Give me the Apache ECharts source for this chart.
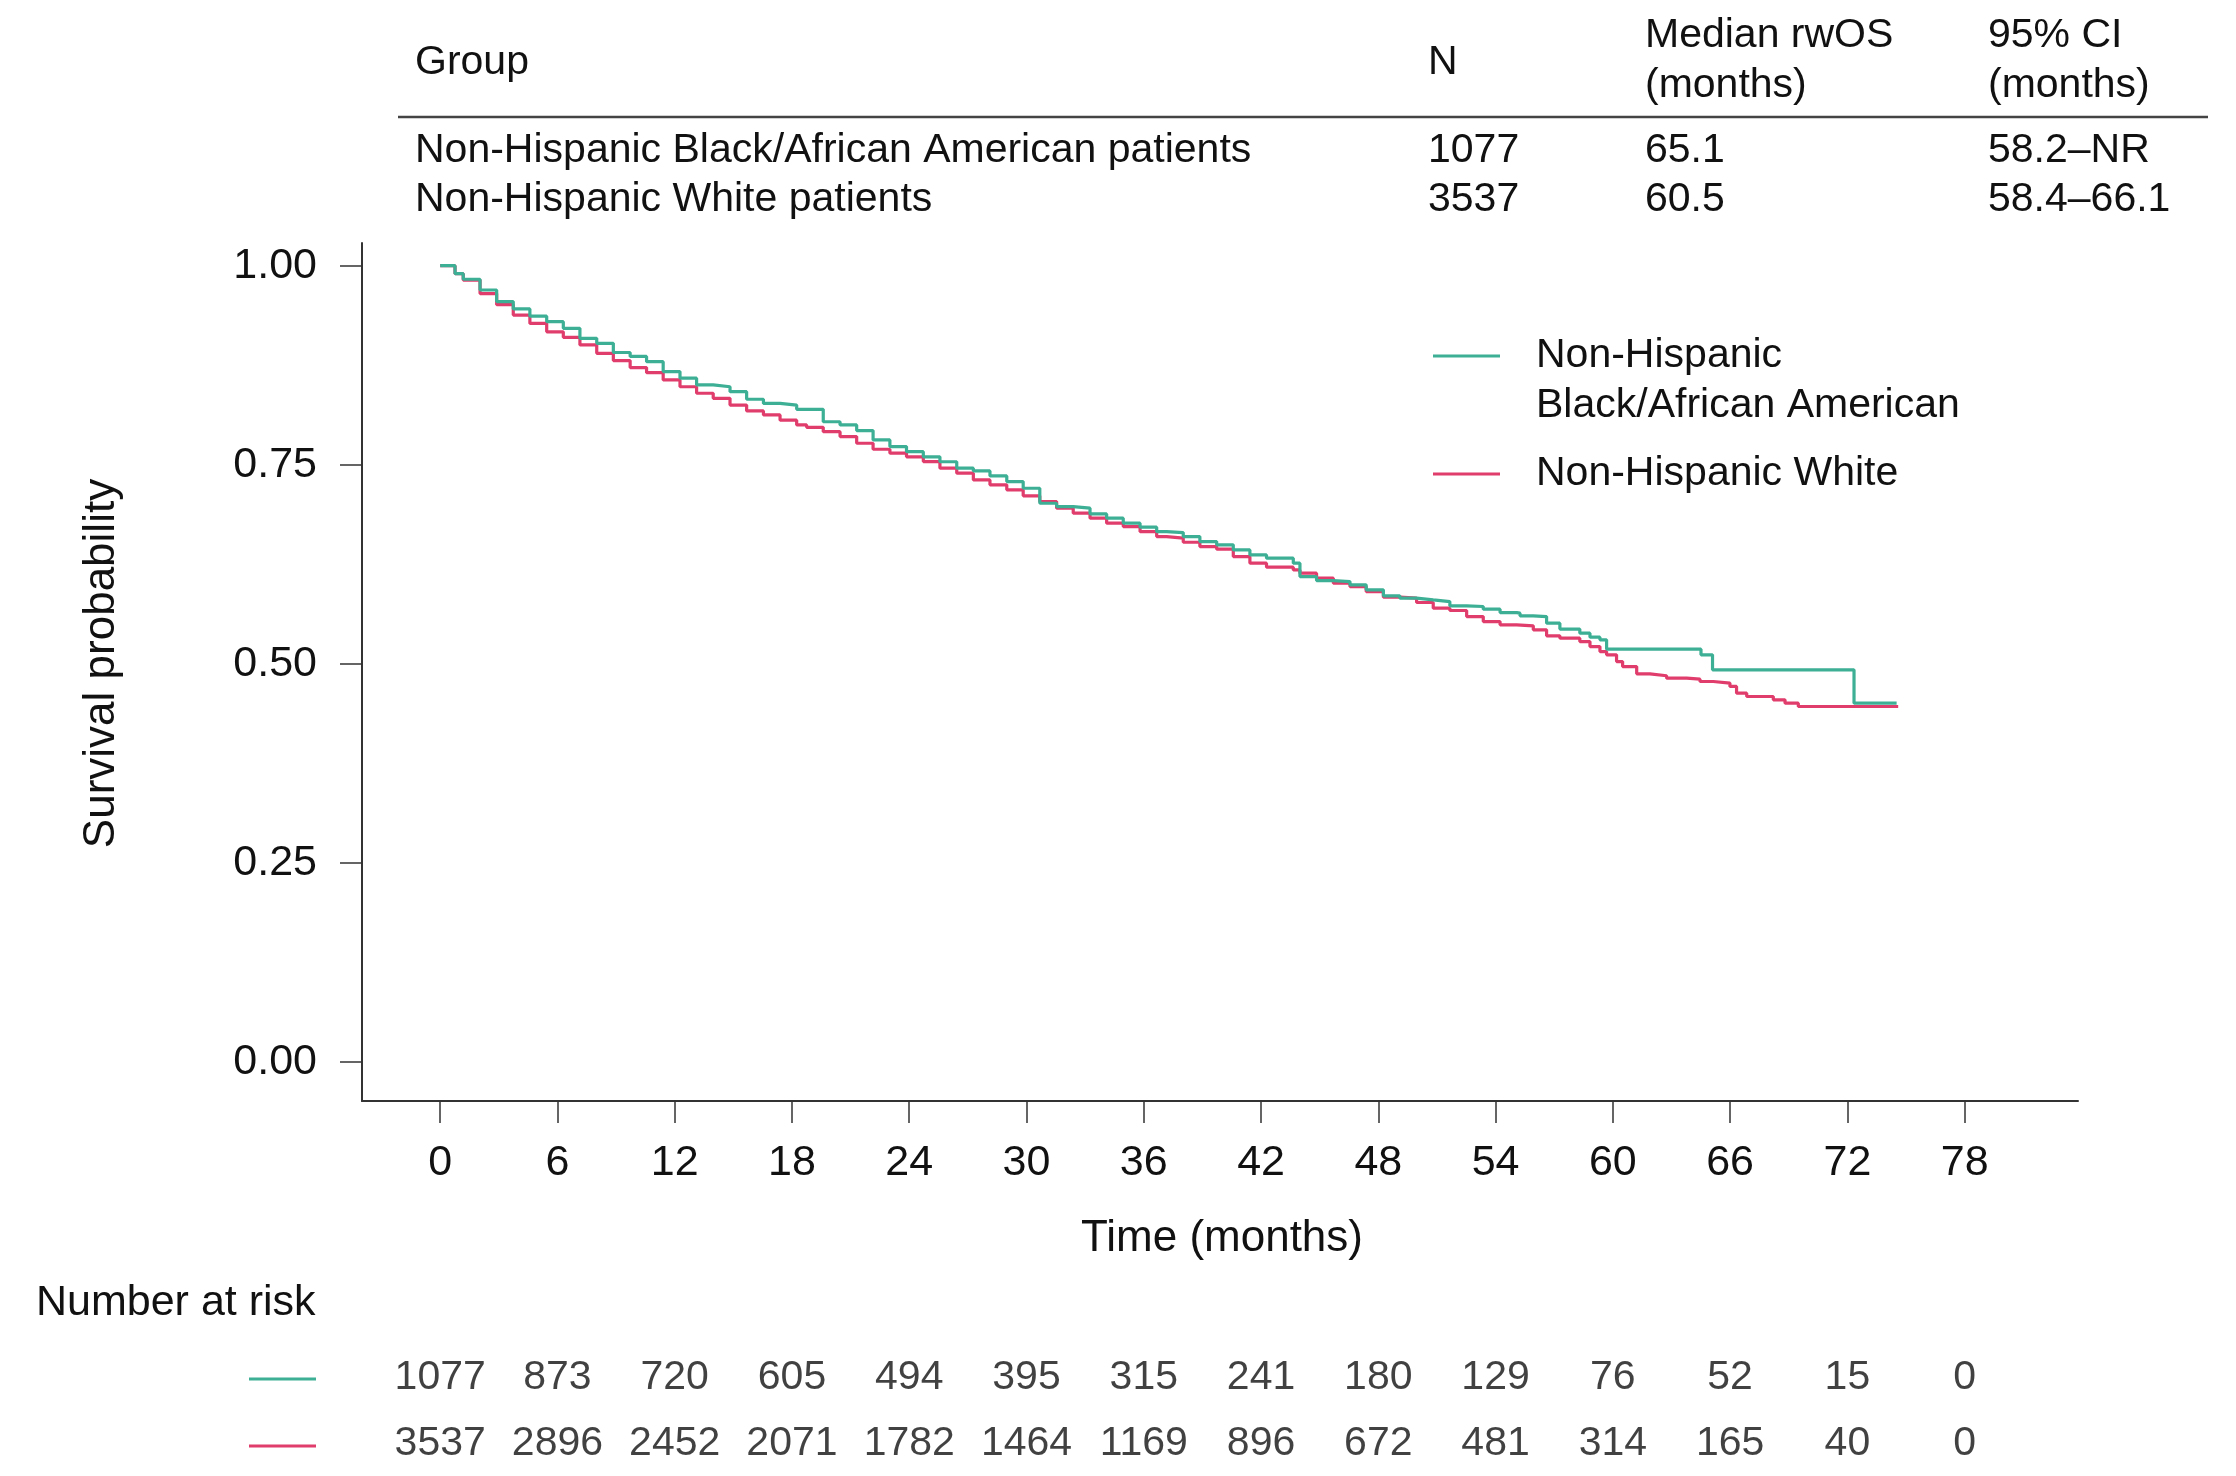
<!DOCTYPE html>
<html>
<head>
<meta charset="utf-8">
<script src="https://cdn.jsdelivr.net/npm/echarts@6/dist/echarts.min.js"></script>
<style>
html,body{margin:0;padding:0;background:#fff;}
#chart{width:2236px;height:1476px;}
</style>
</head>
<body>
<div id="chart"></div>
<script>
// ---------- data ----------
const groupNames = ['Non-Hispanic Black/African American', 'Non-Hispanic White'];
const tableGroups = ['Non-Hispanic Black/African American patients', 'Non-Hispanic White patients'];
const tableN = ['1077', '3537'];
const tableMedian = ['65.1', '60.5'];
const tableCI = ['58.2\u2013NR', '58.4\u201366.1'];

const xTicks = [0, 6, 12, 18, 24, 30, 36, 42, 48, 54, 60, 66, 72, 78];
const yTicks = [0, 0.25, 0.5, 0.75, 1];

const riskBlack = [1077, 873, 720, 605, 494, 395, 315, 241, 180, 129, 76, 52, 15, 0];
const riskWhite = [3537, 2896, 2452, 2071, 1782, 1464, 1169, 896, 672, 481, 314, 165, 40, 0];

const timeBlack = [0,0.76,1.18,2.04,2.89,3.74,4.59,5.45,6.30,7.15,8.01,8.86,9.72,10.56,11.41,12.27,13.12,13.97,14.83,15.68,16.54,17.39,18.24,19.60,20.46,21.31,22.15,23.01,23.86,24.72,25.57,26.43,27.28,28.13,28.99,29.83,30.68,31.54,32.39,33.25,34.10,34.95,35.81,36.66,37.17,38.02,38.87,39.73,40.58,41.43,42.28,43.65,43.99,44.84,45.70,46.55,47.38,48.26,49.10,49.96,50.81,51.66,52.52,53.37,54.23,55.08,55.25,55.93,56.61,57.29,58.31,58.83,59.34,59.68,64.51,65.1,72.34,74.52];
const survBlack = [1.0,0.990,0.983,0.9695,0.955,0.9457,0.9366,0.9297,0.9213,0.9088,0.9025,0.891,0.886,0.8795,0.867,0.8587,0.8503,0.848,0.8418,0.8323,0.827,0.825,0.8196,0.804,0.8,0.7929,0.7812,0.7728,0.7665,0.76,0.7538,0.7457,0.7423,0.736,0.7289,0.7205,0.7017,0.6975,0.6955,0.6883,0.6829,0.6766,0.6716,0.666,0.6649,0.6598,0.6535,0.6494,0.6431,0.6368,0.6327,0.6264,0.6096,0.6046,0.6033,0.5992,0.593,0.5854,0.5825,0.5803,0.5782,0.5728,0.572,0.5686,0.5644,0.5636,0.5603,0.5594,0.5511,0.5436,0.5385,0.5335,0.5301,0.5184,0.5113,0.4925,0.4506,0.4506];

const timeWhite = [0,0.76,1.18,2.04,2.89,3.74,4.59,5.45,6.30,7.15,8.01,8.86,9.72,10.56,11.41,12.27,13.12,13.97,14.83,15.68,16.54,17.39,18.24,18.75,19.60,20.46,21.31,22.15,23.01,23.86,24.72,25.57,26.43,27.28,28.13,28.99,29.83,30.68,31.54,32.39,33.25,34.10,34.95,35.81,36.66,37.17,38.02,38.87,39.73,40.58,41.43,42.28,43.65,43.99,44.84,45.70,46.55,47.38,48.26,49.10,49.96,50.81,51.66,52.52,53.37,54.23,55.08,55.93,56.61,57.29,58.31,58.83,59.34,59.68,60.19,60.5,61.22,61.90,62.75,63.78,64.46,65.14,65.99,66.33,66.85,68.21,68.81,69.49,74.60];
const survWhite = [1.0,0.990,0.982,0.965,0.951,0.938,0.9275,0.917,0.91,0.9005,0.89,0.8808,0.872,0.8657,0.8565,0.848,0.8398,0.8335,0.825,0.8176,0.8126,0.806,0.8,0.797,0.7916,0.7854,0.777,0.7695,0.7645,0.76,0.754,0.7457,0.7394,0.731,0.7248,0.7185,0.711,0.7038,0.6955,0.6892,0.6829,0.6766,0.6724,0.666,0.6598,0.6578,0.6527,0.6473,0.644,0.6347,0.6264,0.6214,0.618,0.6138,0.6076,0.6013,0.597,0.5908,0.5837,0.5825,0.577,0.5699,0.567,0.5594,0.5531,0.549,0.5477,0.5427,0.5352,0.5322,0.528,0.5217,0.5154,0.5113,0.5029,0.4966,0.4875,0.485,0.482,0.4808,0.4778,0.4758,0.4716,0.4632,0.459,0.4548,0.4506,0.4464,0.4464];

// ---------- styling ----------
const TEAL = '#3DAF94';
const RED = '#E03C6C';
const FONT = "'Liberation Sans', Arial, sans-serif";
const TXT = '#111';

const chart = echarts.init(document.getElementById('chart'), null, {renderer: 'canvas'});

function txt(x, y, s, size, extra) {
  return Object.assign({
    type: 'text', x: x, y: y,
    style: {text: s, fill: TXT, font: size + 'px ' + FONT, textAlign: 'left', textVerticalAlign: 'middle'}
  }, extra || {});
}
function hline(x1, x2, y, color, w) {
  return {type: 'line', shape: {x1: x1, y1: y, x2: x2, y2: y}, style: {stroke: color, lineWidth: w}};
}

const colX = [415, 1428, 1645, 1988];
const graphics = [
  txt(colX[0], 63, 'Group', 41),
  txt(colX[1], 63, 'N', 41),
  txt(colX[2], 36, 'Median rwOS', 41),
  txt(colX[2], 86, '(months)', 41),
  txt(colX[3], 36, '95% CI', 41),
  txt(colX[3], 86, '(months)', 41),
  hline(398, 2208, 117, '#444', 2.5)
];
const rowY = [151, 200];
for (let i = 0; i < 2; i++) {
  graphics.push(txt(colX[0], rowY[i], tableGroups[i], 41));
  graphics.push(txt(colX[1], rowY[i], tableN[i], 41));
  graphics.push(txt(colX[2], rowY[i], tableMedian[i], 41));
  graphics.push(txt(colX[3], rowY[i], tableCI[i], 41));
}
// in-plot legend
graphics.push(hline(1433, 1500, 356, TEAL, 3));
graphics.push(txt(1536, 356, 'Non-Hispanic', 41));
graphics.push(txt(1536, 406, 'Black/African American', 41));
graphics.push(hline(1433, 1500, 474, RED, 3));
graphics.push(txt(1536, 474, 'Non-Hispanic White', 41));
// number at risk
graphics.push(txt(36, 1303, 'Number at risk', 43));
graphics.push(hline(249, 316, 1379, TEAL, 3));
graphics.push(hline(249, 316, 1446, RED, 3));

const X_MIN = -4, X_MAX = 83.8;
const riskRows = ['black', 'white'];

const option = {
  backgroundColor: '#fff',
  animation: false,
  textStyle: {fontFamily: FONT},
  grid: [
    {left: 362, right: 158, top: 243, height: 858, containLabel: false},
    {left: 362, right: 158, top: 1345, height: 136, containLabel: false}
  ],
  xAxis: [
    {
      type: 'value', gridIndex: 0, min: X_MIN, max: X_MAX,
      name: 'Time (months)', nameLocation: 'middle', nameGap: 116,
      nameTextStyle: {fontSize: 44, color: TXT, fontFamily: FONT, padding: [0, 0, 0, 4]},
      axisLine: {show: true, onZero: false, lineStyle: {color: '#333', width: 2}},
      axisTick: {show: true, length: 22, lineStyle: {color: '#333', width: 1.5}, customValues: xTicks},
      axisLabel: {fontSize: 43, color: TXT, fontFamily: FONT, margin: 41, customValues: xTicks},
      splitLine: {show: false}
    },
    {
      type: 'value', gridIndex: 1, min: X_MIN, max: X_MAX, show: false
    }
  ],
  yAxis: [
    {
      type: 'value', gridIndex: 0, min: -0.049, max: 1.0285,
      name: 'Survival probability', nameLocation: 'middle', nameGap: 238, nameRotate: 90,
      nameTextStyle: {fontSize: 44, color: TXT, fontFamily: FONT, padding: [0, 0, 0, 17]},
      axisLine: {show: true, onZero: false, lineStyle: {color: '#333', width: 2}},
      axisTick: {show: true, length: 22, lineStyle: {color: '#333', width: 1.5}, customValues: yTicks},
      axisLabel: {fontSize: 43, color: TXT, fontFamily: FONT, margin: 45, customValues: yTicks,
        formatter: v => v.toFixed(2)},
      splitLine: {show: false}
    },
    {
      type: 'category', gridIndex: 1, data: riskRows, inverse: true, show: false
    }
  ],
  series: [
    {
      name: groupNames[1], type: 'line', step: 'end', xAxisIndex: 0, yAxisIndex: 0,
      showSymbol: false, symbol: 'none', color: RED,
      lineStyle: {color: RED, width: 3.2},
      data: timeWhite.map((t, i) => [t, survWhite[i]])
    },
    {
      name: groupNames[0], type: 'line', step: 'end', xAxisIndex: 0, yAxisIndex: 0,
      showSymbol: false, symbol: 'none', color: TEAL,
      lineStyle: {color: TEAL, width: 3.2},
      data: timeBlack.map((t, i) => [t, survBlack[i]])
    },
    {
      type: 'scatter', xAxisIndex: 1, yAxisIndex: 1, symbolSize: 1,
      itemStyle: {color: 'rgba(0,0,0,0)'},
      label: {show: true, position: 'inside', formatter: p => String(p.value[2]),
        fontSize: 41, color: TXT, fontFamily: FONT},
      data: xTicks.map((t, i) => [t, 'black', riskBlack[i]])
    },
    {
      type: 'scatter', xAxisIndex: 1, yAxisIndex: 1, symbolSize: 1,
      itemStyle: {color: 'rgba(0,0,0,0)'},
      label: {show: true, position: 'inside', formatter: p => String(p.value[2]),
        fontSize: 41, color: TXT, fontFamily: FONT},
      data: xTicks.map((t, i) => [t, 'white', riskWhite[i]])
    }
  ],
  graphic: graphics
};
chart.setOption(option);
</script>
</body>
</html>
